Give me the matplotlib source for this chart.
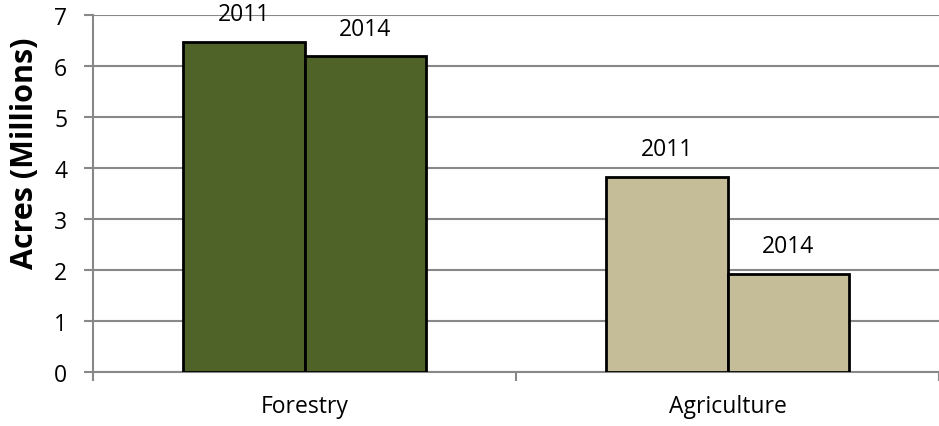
import numpy as np
import matplotlib.pyplot as plt

categories = ['Forestry', 'Agriculture']
years = ['2011', '2014']
acres_2011 = [6.48, 3.82]
acres_2014 = [6.19, 1.92]
colors = ['#4F6228', '#C4BD97']

plt.rcParams['font.family'] = ['Open Sans', 'DejaVu Sans']
grey = '#888888'
fs = 16.5

fig = plt.figure(figsize=(9.39, 4.27), dpi=100)
W, H = 939, 427
ax = fig.add_axes([93 / W, (H - 373) / H, (939 - 93) / W, (373 - 16) / H])

x = np.arange(len(categories))
w = 0.2865
for i, (vals, off) in enumerate([(acres_2011, -w / 2), (acres_2014, w / 2)]):
    bars = ax.bar(x + off, vals, width=w, color=colors, edgecolor='black',
                  linewidth=2, zorder=3)
    for b in bars:
        ax.annotate(years[i], (b.get_x() + b.get_width() / 2, b.get_height()),
                    xytext=(0, 20), textcoords='offset points',
                    ha='center', va='center', fontsize=fs, zorder=4,
                    clip_on=False)

ax.set_xlim(-0.5, 1.5)
ax.set_ylim(0, 7)
ax.set_yticks(range(8))
ax.set_xticks(x)
ax.set_xticklabels(categories)
ax.set_xticks([-0.5, 0.5, 1.5], minor=True)
ax.tick_params(axis='x', which='major', length=0, pad=16, labelsize=fs)
ax.tick_params(axis='x', which='minor', length=6.5, width=1.5, color=grey)
ax.tick_params(axis='y', length=6.5, width=1.5, color=grey, labelsize=fs, pad=12)
ax.yaxis.grid(True, color=grey, linewidth=1.5, zorder=0)
ax.set_axisbelow(True)
for s in ['top', 'right']:
    ax.spines[s].set_visible(False)
for s in ['left', 'bottom']:
    ax.spines[s].set_color(grey)
    ax.spines[s].set_linewidth(1.5)

fig.text(25 / W, 1 - 153 / H, 'Acres (Millions)', rotation=90, ha='center',
         va='center', fontsize=22, fontweight='bold')

fig.savefig('out.png', dpi=100)
